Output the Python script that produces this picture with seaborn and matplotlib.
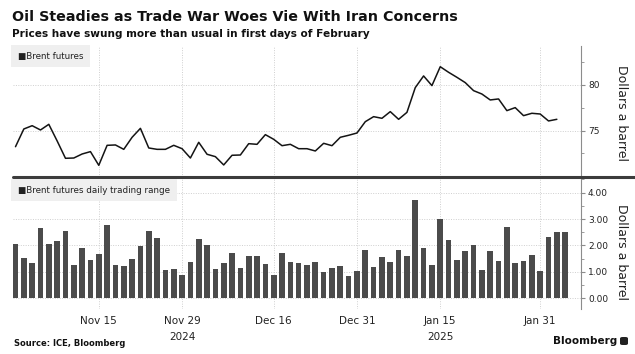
import matplotlib
matplotlib.use("Agg")
import matplotlib.pyplot as plt
import seaborn as sns
import pandas as pd
import numpy as np
from matplotlib.lines import Line2D
from matplotlib.patches import FancyBboxPatch
from matplotlib.ticker import FixedLocator

sns.set_style("white")
plt.rcParams['font.family'] = ['DejaVu Sans']

# ICE Brent trading days, Nov 1 2024 - Feb 5 2025 (closed Dec 25, Jan 1)
dates = pd.bdate_range("2024-11-01", "2025-02-05", freq="C",
                       holidays=["2024-12-25", "2025-01-01"])

# Brent front-month settlement, $/bbl (last day has no settle yet)
brent = [73.24, 75.18, 75.54, 75.07, 75.69, 73.87, 71.97, 72.00, 72.44, 72.70,
         71.20, 73.39, 73.43, 72.95, 74.27, 75.25, 73.10, 72.95, 72.95, 73.39,
         73.02, 72.00, 73.72, 72.41, 72.15, 71.24, 72.30, 72.33, 73.57, 73.50,
         74.56, 74.05, 73.35, 73.50, 73.02, 73.02, 72.77, 73.61, 73.35, 74.27,
         74.49, 74.74, 75.98, 76.53, 76.35, 77.08, 76.24, 77.00, 79.71, 80.99,
         79.93, 82.00, 81.39, 80.84, 80.26, 79.38, 79.01, 78.36, 78.47, 77.19,
         77.52, 76.64, 76.90, 76.82, 76.06, 76.24]

# daily high-low range, $/bbl
day_range = [2.06, 1.52, 1.33, 2.65, 2.06, 2.17, 2.56, 1.27, 1.92, 1.44,
             1.67, 2.78, 1.25, 1.24, 1.49, 1.98, 2.54, 2.27, 1.08, 1.10,
             0.90, 1.37, 2.24, 2.02, 1.12, 1.33, 1.70, 1.16, 1.60, 1.59,
             1.29, 0.88, 1.70, 1.39, 1.32, 1.28, 1.38, 1.01, 1.16, 1.23,
             0.83, 1.04, 1.82, 1.19, 1.55, 1.38, 1.83, 1.59, 3.74, 1.92,
             1.27, 3.00, 2.20, 1.44, 1.80, 2.02, 1.09, 1.80, 1.40, 2.70,
             1.34, 1.40, 1.63, 1.03, 2.31, 2.52, 2.52]

tick_dates = ["2024-11-15", "2024-11-29", "2024-12-16", "2024-12-31", "2025-01-15", "2025-01-31"]
tick_labels = ["Nov 15", "Nov 29", "Dec 16", "Dec 31", "Jan 15", "Jan 31"]
year_dates = ["2024-11-29", "2025-01-15"]
year_labels = ["2024", "2025"]

x_bar = np.arange(len(dates))
x_line = x_bar[:len(brent)]
tick_pos = dates.get_indexer(pd.to_datetime(tick_dates))
year_pos = dates.get_indexer(pd.to_datetime(year_dates))

W, H = 635, 354
fig = plt.figure(figsize=(W / 100, H / 100), dpi=100)
ax1 = fig.add_axes([13 / W, 1 - 177 / H, 568 / W, 131 / H])
ax2 = fig.add_axes([13 / W, 1 - 309 / H, 568 / W, 131 / H])

sns.lineplot(x=x_line, y=brent, ax=ax1, color="#141414", linewidth=1.1)
sns.barplot(x=x_bar, y=day_range, ax=ax2, native_scale=True, width=0.68,
            color="#4b4b4b", saturation=1, linewidth=0)

grid_kw = dict(color="#cfcfcf", linestyle=(0, (1, 1.5)), linewidth=0.7)
for ax in (ax1, ax2):
    ax.set_xlim(-0.3, 67.9)
    ax.set_xticks(tick_pos)
    ax.grid(True, which="major", **grid_kw)
    ax.set_axisbelow(True)
    for s in ("top", "left", "bottom"):
        ax.spines[s].set_visible(False)
    ax.spines["right"].set_color("#8c8c8c")
    ax.spines["right"].set_linewidth(0.8)
    ax.yaxis.tick_right()
    ax.tick_params(axis="y", which="both", direction="out", color="#8c8c8c",
                   labelsize=6.5, pad=2, labelcolor="#222222")
    ax.tick_params(axis="y", which="major", length=3)
    ax.tick_params(axis="y", which="minor", length=2)
    ax.set_xlabel("")
    ax.set_ylabel("")

ax1.set_ylim(69.92, 84.27)
ax1.yaxis.set_major_locator(FixedLocator([75, 80]))
ax1.yaxis.set_minor_locator(FixedLocator([70, 72.5, 77.5, 82.5]))
ax1.tick_params(axis="x", length=0, labelbottom=False)

ax2.set_ylim(-0.405, 4.556)
ax2.yaxis.set_major_locator(FixedLocator([0, 1, 2, 3, 4]))
ax2.yaxis.set_minor_locator(FixedLocator([0.5, 1.5, 2.5, 3.5, 4.5]))
ax2.set_yticklabels(["0.00", "1.00", "2.00", "3.00", "4.00"])
ax2.set_xticklabels(tick_labels)
ax2.tick_params(axis="x", length=0, labelsize=7.5, pad=5, labelcolor="#222222")
for xp, lab in zip(year_pos, year_labels):
    ax2.text(xp, -0.214, lab, transform=ax2.get_xaxis_transform(),
             ha="center", va="center", fontsize=7.5, color="#222222")

# divider between panels
fig.add_artist(Line2D([13 / W, 1], [1 - 177.5 / H] * 2, color="#3c3c3c", lw=2.2))

# panel legends
fig.text(18 / W, 1 - 56 / H, "\u25a0Brent futures", fontsize=6.3, color="#222222",
         va="center", ha="left",
         bbox=dict(boxstyle="square,pad=0.75", fc="#efefef", ec="none"))
fig.text(18 / W, 1 - 190 / H, "\u25a0Brent futures daily trading range", fontsize=6.3,
         color="#222222", va="center", ha="left",
         bbox=dict(boxstyle="square,pad=0.75", fc="#efefef", ec="none"))

# axis titles on the right
fig.text(622 / W, 1 - 113 / H, "Dollars a barrel", rotation=270, fontsize=9,
         ha="center", va="center", color="#222222")
fig.text(622 / W, 1 - 252 / H, "Dollars a barrel", rotation=270, fontsize=9,
         ha="center", va="center", color="#222222")

# headline
fig.text(12 / W, 1 - 17 / H, "Oil Steadies as Trade War Woes Vie With Iran Concerns",
         fontsize=10.3, fontweight="bold", ha="left", va="center", color="#111111")
fig.text(12 / W, 1 - 34 / H, "Prices have swung more than usual in first days of February",
         fontsize=7.6, fontweight="bold", ha="left", va="center", color="#111111")

# footer
fig.text(14 / W, 1 - 344 / H, "Source: ICE, Bloomberg", fontsize=6, fontweight="bold",
         ha="left", va="center", color="#111111")
fig.text(617 / W, 1 - 341 / H, "Bloomberg", fontsize=7.5, fontweight="bold",
         ha="right", va="center", color="#111111")
fig.add_artist(FancyBboxPatch((620 / W, 1 - 345 / H), 8 / W, 8 / H,
                              boxstyle="round,pad=0,rounding_size=0.004",
                              fc="#222222", ec="none", transform=fig.transFigure))

fig.savefig("out.png", dpi=100)
